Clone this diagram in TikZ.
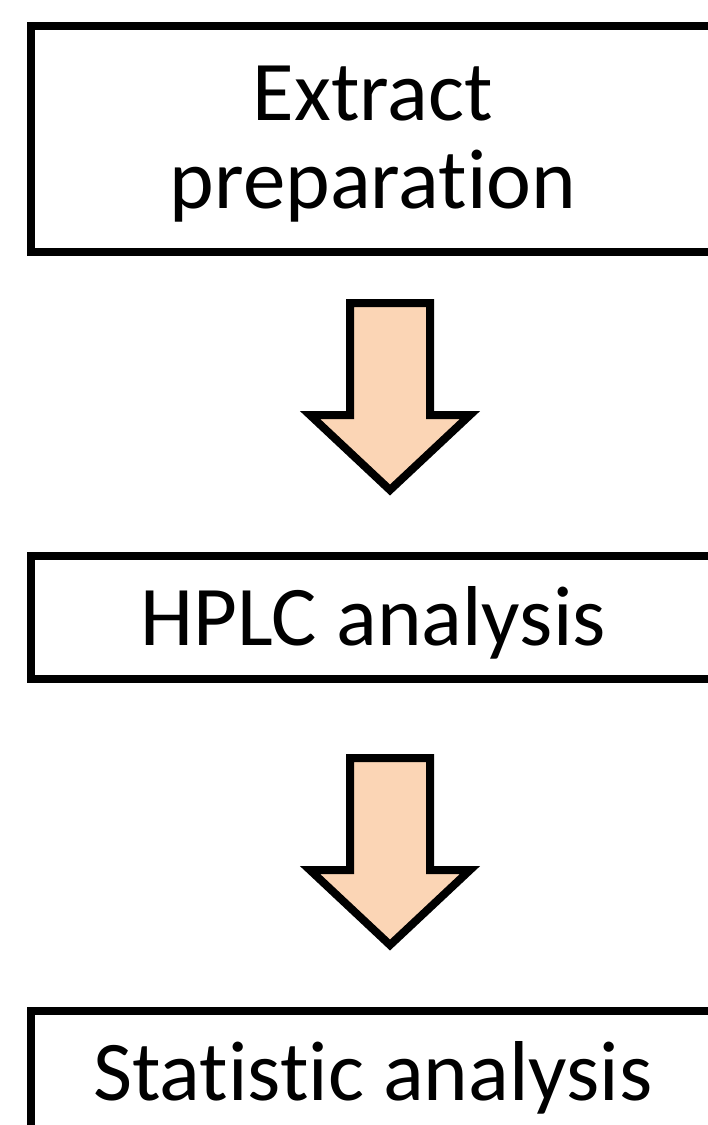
\documentclass[tikz,border=0pt]{standalone}
\usepackage{fontspec}
\setmainfont{Carlito}[Ligatures=NoCommon]
\usepackage{tikz,color}
\definecolor{peach}{RGB}{251,213,181}

\begin{document}
\begin{tikzpicture}[x=1pt,y=-1pt]
	\tikzstyle{every node}+=[inner sep=0pt]
	\tikzstyle{stepbox}=[draw=black, line width=8pt, minimum width=684pt, font=\fontsize{85}{88}\selectfont]
	\tikzstyle{blockarrow}=[draw=black, fill=peach, line width=8pt, line join=miter]
	\useasboundingbox (0,0) rectangle (708,1125);
	\clip (0,0) rectangle (708,1125);
	\node [stepbox, minimum height=226pt, align=center, text height=146pt, text depth=8pt] (prep) at (373,139) {Extract\\preparation};
	\node [stepbox, minimum height=123pt, text height=62pt, text depth=6pt] (hplc) at (373,617.5) {HPLC analysis};
	\node [stepbox, minimum height=123pt, text height=62pt, text depth=6pt] (stat) at (373,1072.5) {Statistic analysis};
	\coordinate (arrowone) at (390,303);
	\coordinate (arrowtwo) at (390,758);
	\draw [blockarrow] (arrowone) ++(-40,0) -- ++(0,112) -- ++(-40,0) -- ++(80,75) -- ++(80,-75) -- ++(-40,0) -- ++(0,-112) -- cycle;
	\draw [blockarrow] (arrowtwo) ++(-40,0) -- ++(0,112) -- ++(-40,0) -- ++(80,75) -- ++(80,-75) -- ++(-40,0) -- ++(0,-112) -- cycle;
\end{tikzpicture}
\end{document}
